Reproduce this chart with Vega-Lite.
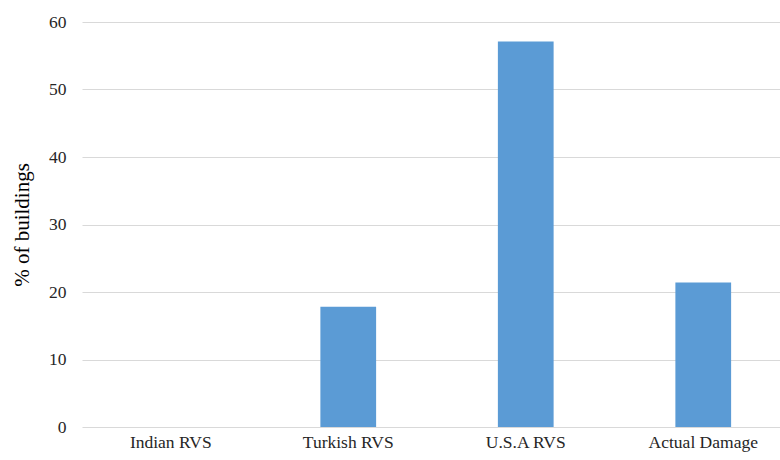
{
  "$schema": "https://vega.github.io/schema/vega-lite/v6.json",
  "autosize": {"type": "none"},
  "padding": {"left": 82, "top": 22, "right": 0, "bottom": 33},
  "width": 710,
  "height": 405,
  "background": "white",
  "data": {
    "values": [
      {"method": "Indian RVS", "pct": 0},
      {"method": "Turkish RVS", "pct": 17.8},
      {"method": "U.S.A RVS", "pct": 57.1},
      {"method": "Actual Damage", "pct": 21.4}
    ]
  },
  "mark": {"type": "bar", "color": "#5b9bd5"},
  "encoding": {
    "x": {
      "field": "method",
      "type": "nominal",
      "sort": null,
      "scale": {"paddingInner": 0.686, "paddingOuter": 0.343},
      "axis": {
        "title": null,
        "labelAngle": 0,
        "domain": false,
        "ticks": false,
        "labelPadding": 6,
        "labelFont": "Liberation Serif",
        "labelFontSize": 17.5,
        "labelColor": "#262626"
      }
    },
    "y": {
      "field": "pct",
      "type": "quantitative",
      "scale": {"domain": [0, 60]},
      "axis": {
        "title": "% of buildings",
        "titleFont": "Liberation Serif",
        "titleFontSize": 21,
        "titleFontWeight": "normal",
        "titleColor": "#000000",
        "titlePadding": 16,
        "values": [0, 10, 20, 30, 40, 50, 60],
        "domain": false,
        "ticks": false,
        "labelPadding": 16,
        "labelFont": "Liberation Serif",
        "labelFontSize": 17.5,
        "labelColor": "#262626",
        "grid": true,
        "gridColor": "#d9d9d9",
        "gridWidth": 1
      }
    }
  },
  "config": {"view": {"stroke": null}}
}
